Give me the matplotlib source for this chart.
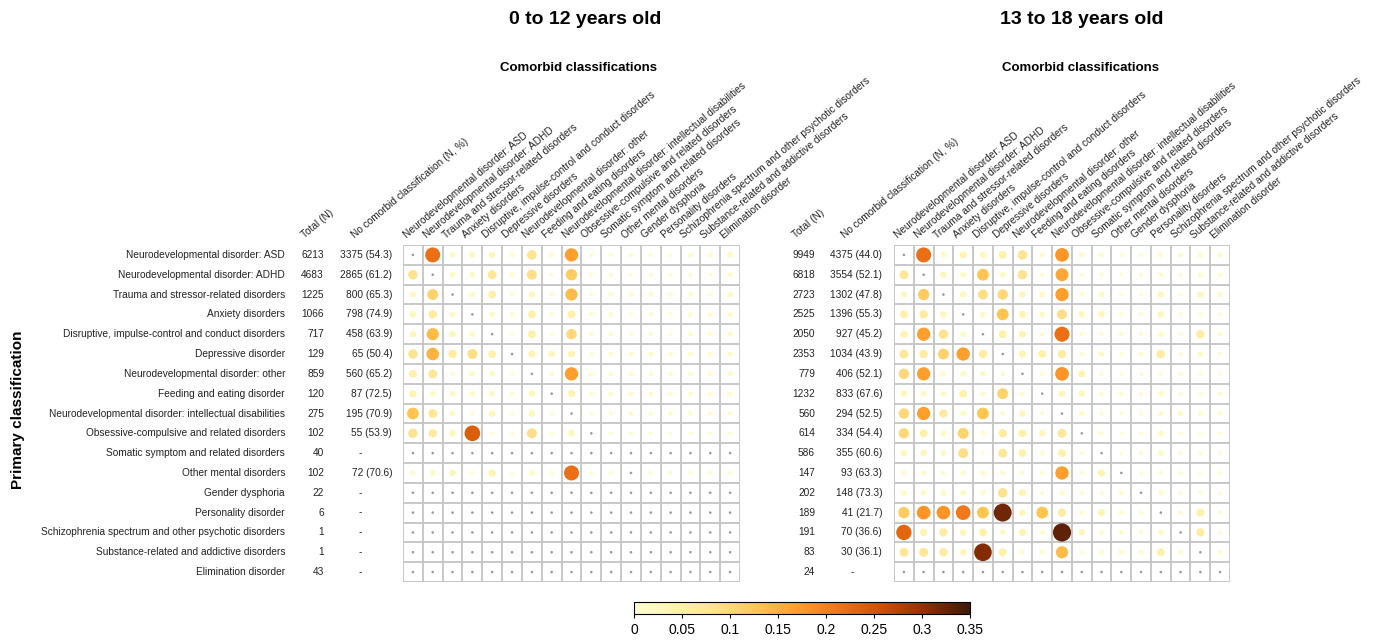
import numpy as np
import matplotlib
matplotlib.use("Agg")
import matplotlib.pyplot as plt
from matplotlib.colors import LinearSegmentedColormap, Normalize
from matplotlib.cm import ScalarMappable
from matplotlib.transforms import blended_transform_factory

plt.rcParams['font.family'] = ['Liberation Sans', 'DejaVu Sans']

primary = [
    "Neurodevelopmental disorder: ASD",
    "Neurodevelopmental disorder: ADHD",
    "Trauma and stressor-related disorders",
    "Anxiety disorders",
    "Disruptive, impulse-control and conduct disorders",
    "Depressive disorder",
    "Neurodevelopmental disorder: other",
    "Feeding and eating disorder",
    "Neurodevelopmental disorder: intellectual disabilities",
    "Obsessive-compulsive and related disorders",
    "Somatic symptom and related disorders",
    "Other mental disorders",
    "Gender dysphoria",
    "Personality disorder",
    "Schizophrenia spectrum and other psychotic disorders",
    "Substance-related and addictive disorders",
    "Elimination disorder",
]
comorbid = [
    "Neurodevelopmental disorder: ASD",
    "Neurodevelopmental disorder: ADHD",
    "Trauma and stressor-related disorders",
    "Anxiety disorders",
    "Disruptive, impulse-control and conduct disorders",
    "Depressive disorders",
    "Neurodevelopmental disorder: other",
    "Feeding and eating disorders",
    "Neurodevelopmental disorder: intellectual disabilities",
    "Obsessive-compulsive and related disorders",
    "Somatic symptom and related disorders",
    "Other mental disorders",
    "Gender dysphoria",
    "Personality disorders",
    "Schizophrenia spectrum and other psychotic disorders",
    "Substance-related and addictive disorders",
    "Elimination disorder",
]

total_child = [6213, 4683, 1225, 1066, 717, 129, 859, 120, 275, 102, 40, 102, 22, 6, 1, 1, 43]
none_child = ["3375 (54.3)", "2865 (61.2)", "800 (65.3)", "798 (74.9)", "458 (63.9)",
              "65 (50.4)", "560 (65.2)", "87 (72.5)", "195 (70.9)", "55 (53.9)", "-",
              "72 (70.6)", "-", "-", "-", "-", "-"]
total_teen = [9949, 6818, 2723, 2525, 2050, 2353, 779, 1232, 560, 614, 586, 147, 202, 189, 191, 83, 24]
none_teen = ["4375 (44.0)", "3554 (52.1)", "1302 (47.8)", "1396 (55.3)", "927 (45.2)",
             "1034 (43.9)", "406 (52.1)", "833 (67.6)", "294 (52.5)", "334 (54.4)",
             "355 (60.6)", "93 (63.3)", "148 (73.3)", "41 (21.7)", "70 (36.6)",
             "30 (36.1)", "-"]

# proportion with each comorbid classification (nan = diagonal / not reported)
nan = np.nan
prop_child = [
    [nan, .22, .02, .025, .03, .01, .08, .01, .17, .01, .005, .005, .005, .005, .01, .01, .02],
    [.08, nan, .02, .02, .07, .01, .09, .005, .12, .005, .005, .005, .005, .005, .005, .005, .015],
    [.025, .11, nan, .02, .05, .01, .03, .01, .14, .005, .01, .01, .01, .01, .01, .005, .02],
    [.03, .06, .02, nan, .02, .01, .05, .005, .05, .01, .01, .005, .005, .005, .01, .01, .015],
    [.03, .14, .03, .02, nan, .005, .05, .005, .10, .01, .01, .005, .005, .005, .01, .01, .015],
    [.08, .15, .06, .09, .05, nan, .04, .03, .04, .005, .01, .01, .015, .01, .01, .01, .015],
    [.05, .07, .005, .02, .02, .005, nan, .01, .17, .01, .01, .01, .01, .01, .01, .01, .015],
    [.04, .02, .02, .02, .02, .01, .03, nan, .04, .01, .01, .01, .01, .01, .01, .01, .01],
    [.13, .07, .02, .005, .03, .005, .03, .005, nan, .005, .005, .01, .005, .01, .01, .01, .01],
    [.08, .06, .03, .24, .005, .005, .09, .005, .03, nan, .005, .005, .005, .005, .005, .005, .005],
    [nan] * 17,
    [.01, .02, .03, .005, .04, .005, .02, .005, .22, .005, .005, nan, .005, .005, .005, .005, .005],
    [nan] * 17,
    [nan] * 17,
    [nan] * 17,
    [nan] * 17,
    [nan] * 17,
]
prop_teen = [
    [nan, .22, .02, .04, .03, .05, .08, .01, .18, .015, .01, .005, .005, .01, .01, .015, .015],
    [.07, nan, .03, .02, .13, .02, .08, .005, .16, .005, .005, .005, .005, .01, .005, .01, .01],
    [.025, .12, nan, .03, .09, .10, .03, .02, .17, .01, .02, .005, .005, .03, .005, .03, .015],
    [.05, .06, .03, nan, .02, .13, .04, .02, .09, .03, .03, .005, .005, .03, .005, .005, .005],
    [.04, .17, .08, .02, nan, .05, .04, .01, .22, .005, .005, .01, .005, .02, .005, .06, .01],
    [.07, .06, .11, .17, .06, nan, .04, .05, .06, .005, .02, .005, .01, .06, .005, .02, .005],
    [.10, .17, .015, .02, .02, .01, nan, .005, .18, .04, .005, .005, .005, .005, .005, .005, .005],
    [.03, .02, .02, .05, .01, .11, .01, nan, .03, .03, .01, .01, .005, .02, .005, .005, .01],
    [.10, .17, .06, .02, .13, .01, .03, .005, nan, .015, .005, .005, .005, .01, .02, .01, .01],
    [.10, .05, .02, .11, .01, .06, .05, .03, .07, nan, .01, .005, .005, .02, .005, .005, .005],
    [.03, .03, .02, .09, .005, .07, .05, .01, .05, .005, nan, .005, .005, .02, .005, .005, .005],
    [.01, .01, .01, .015, .015, .01, .01, .005, .17, .005, .04, nan, .005, .005, .005, .005, .005],
    [.02, .02, .02, .02, .01, .08, .04, .005, .015, .005, .005, .01, nan, .01, .005, .005, .005],
    [.12, .18, .18, .21, .13, .32, .03, .13, .06, .01, .04, .01, .005, nan, .01, .05, .005],
    [.23, .04, .06, .03, .05, .02, .04, .01, .33, .03, .01, .01, .005, .02, nan, .06, .005],
    [.07, .07, .06, .03, .31, .05, .01, .01, .14, .005, .01, .015, .01, .05, .01, nan, .01],
    [nan] * 17,
]

cbar_ticks = [0, 0.05, 0.1, 0.15, 0.2, 0.25, 0.3, 0.35]

W, H = 1383, 640
cmap = LinearSegmentedColormap.from_list(
    "ylorbr_dark",
    ["#fffdd2", "#fff3ad", "#fee08a", "#fec44f", "#fe9929", "#ec7014",
     "#cc4c02", "#8c2d04", "#3d1a08"])
norm = Normalize(0, 0.35)

fig = plt.figure(figsize=(W / 100, H / 100), dpi=100)


def px_ax(x0, y0, x1, y1):
    return fig.add_axes([x0 / W, 1 - y1 / H, (x1 - x0) / W, (y1 - y0) / H])


def draw_panel(ax, props, totals, nones, x_tot, x_none, x_dash, x_hdr_tot, x_hdr_none,
               row_labels=False):
    n = len(comorbid)
    vals = np.array(props, dtype=float)
    ax.set_xlim(-0.5, n - 0.5)
    ax.set_ylim(n - 0.5, -0.5)
    ax.set_xticks([])
    ax.set_yticks([])
    for s in ax.spines.values():
        s.set_visible(False)
    for k in range(n + 1):
        ax.axhline(k - 0.5, color="#c4c4c4", lw=1.3, zorder=1)
        ax.axvline(k - 0.5, color="#c4c4c4", lw=1.3, zorder=1)

    rr, cc = np.nonzero(~np.isnan(vals))
    v = vals[rr, cc]
    ax.scatter(cc, rr, s=500 * v + 7, c=v, cmap=cmap, norm=norm,
               edgecolors="none", zorder=3)
    gr, gc = np.nonzero(np.isnan(vals))
    ax.scatter(gc, gr, s=3.5, color="#9a9a9a", edgecolors="none", zorder=3)

    tr = blended_transform_factory(fig.transFigure, ax.transData)
    for i in range(n):
        if row_labels:
            ax.text(285 / W, i, primary[i], transform=tr, ha="right", va="center",
                    fontsize=7.3, color="#222222")
        ax.text(x_tot / W, i, str(totals[i]), transform=tr, ha="right", va="center",
                fontsize=7.3, color="#222222")
        if nones[i] == "-":
            ax.text(x_dash / W, i, "-", transform=tr, ha="center", va="center",
                    fontsize=7.3, color="#222222")
        else:
            ax.text(x_none / W, i, nones[i], transform=tr, ha="right", va="center",
                    fontsize=7.3, color="#222222")

    for j, lab in enumerate(comorbid):
        ax.text(j - 0.25, -0.75, lab, rotation=40, ha="left", va="bottom",
                rotation_mode="anchor", fontsize=7.3, color="#222222")
    ax.text(x_hdr_tot / W, -0.75, "Total (N)", transform=tr, rotation=40, ha="left",
            va="bottom", rotation_mode="anchor", fontsize=7.3, color="#222222")
    ax.text(x_hdr_none / W, -0.75, "No comorbid classification (N, %)", transform=tr,
            rotation=40, ha="left", va="bottom", rotation_mode="anchor", fontsize=7.3,
            color="#222222")


ax1 = px_ax(403, 245, 740, 582)
ax2 = px_ax(894, 245, 1230, 582)

draw_panel(ax1, prop_child, total_child, none_child, 324, 392, 360, 306, 356, row_labels=True)
draw_panel(ax2, prop_teen, total_teen, none_teen, 815, 882, 852, 797, 846)

fig.text(585 / W, 1 - 20 / H, "0 to 12 years old", ha="center", va="center",
         fontsize=14, fontweight="bold")
fig.text(1082 / W, 1 - 20 / H, "13 to 18 years old", ha="center", va="center",
         fontsize=14, fontweight="bold")
fig.text(578 / W, 1 - 68 / H, "Comorbid classifications", ha="center", va="center",
         fontsize=9.5, fontweight="bold")
fig.text(1081 / W, 1 - 68 / H, "Comorbid classifications", ha="center", va="center",
         fontsize=9.5, fontweight="bold")
fig.text(18 / W, 1 - 410 / H, "Primary classification", ha="center", va="center",
         rotation=90, fontsize=11, fontweight="bold")

cax = px_ax(634, 602, 970, 614)
cb = fig.colorbar(ScalarMappable(norm=norm, cmap=cmap), cax=cax,
                  orientation="horizontal", ticks=cbar_ticks)
cb.ax.set_xticklabels([f"{t:g}" for t in cbar_ticks])
cb.ax.tick_params(labelsize=10, length=3, width=0.8)
cb.outline.set_linewidth(0.8)

fig.savefig("out.png", dpi=100)
